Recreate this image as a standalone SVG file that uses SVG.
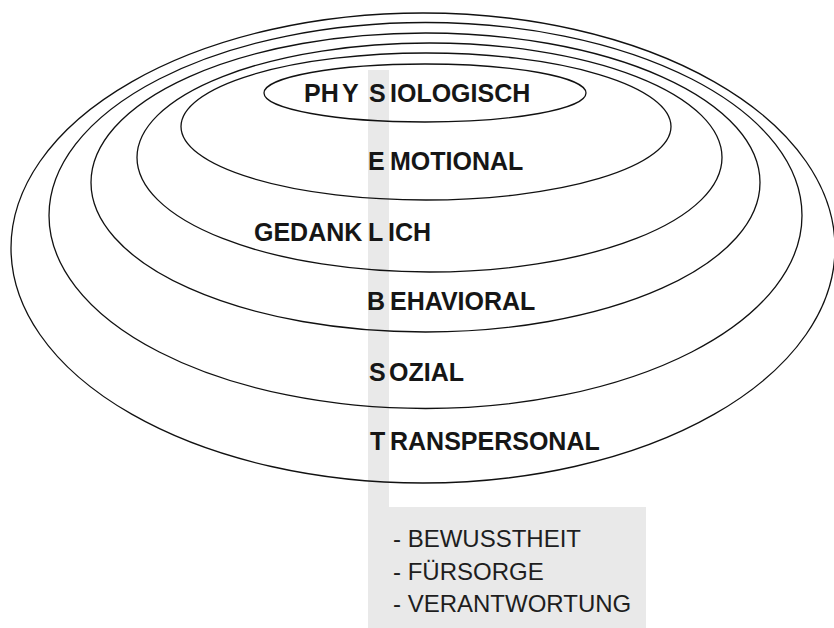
<svg xmlns="http://www.w3.org/2000/svg" width="834" height="628" viewBox="0 0 834 628">
  <style>
    .ring { fill: none; stroke: #111; stroke-width: 1.3; }
    .lbl { font-family: "Liberation Sans", Arial, Helvetica, sans-serif; font-weight: bold; font-size: 25px; fill: #161616; }
    .item { font-family: "Liberation Sans", Arial, Helvetica, sans-serif; font-size: 24px; fill: #1e1e1e; }
    .shade { fill: #e9e9e9; }
  </style>
  <rect width="834" height="628" fill="#ffffff"/>
  <g id="highlight">
    <rect class="shade" x="368" y="70" width="21" height="440"/>
    <rect class="shade" x="368" y="507" width="278" height="121"/>
  </g>
  <g id="ring-transpersonal">
    <ellipse class="ring" cx="423" cy="248" rx="412" ry="235"/>
    <text class="lbl" y="450"><tspan x="370">T</tspan><tspan x="390">RANSPERSONAL</tspan></text>
  </g>
  <g id="ring-sozial">
    <ellipse class="ring" cx="425.5" cy="215.5" rx="376.5" ry="193"/>
    <text class="lbl" y="381"><tspan x="369">S</tspan><tspan x="389">OZIAL</tspan></text>
  </g>
  <g id="ring-behavioral">
    <ellipse class="ring" cx="425.5" cy="182.5" rx="334.5" ry="149.5"/>
    <text class="lbl" y="310"><tspan x="367">B</tspan><tspan x="390">EHAVIORAL</tspan></text>
  </g>
  <g id="ring-gedanklich">
    <ellipse class="ring" cx="429.5" cy="157.5" rx="292.5" ry="114.5"/>
    <text class="lbl" y="241"><tspan x="254">GEDANK</tspan><tspan x="368">L</tspan><tspan x="388">ICH</tspan></text>
  </g>
  <g id="ring-emotional">
    <ellipse class="ring" cx="426" cy="126.5" rx="245" ry="73.5"/>
    <text class="lbl" y="170"><tspan x="368">E</tspan><tspan x="390">MOTIONAL</tspan></text>
  </g>
  <g id="ring-physiologisch">
    <ellipse class="ring" cx="425" cy="93" rx="161" ry="29"/>
    <text class="lbl" y="102"><tspan x="304">PH</tspan><tspan x="342">Y</tspan><tspan x="369">S</tspan><tspan x="390">IOLOGISCH</tspan></text>
  </g>
  <g id="qualities">
    <text class="item" x="393" y="547">- BEWUSSTHEIT</text>
    <text class="item" x="393" y="580">- FÜRSORGE</text>
    <text class="item" x="393" y="612">- VERANTWORTUNG</text>
  </g>
  <g id="connectors"></g>
</svg>
